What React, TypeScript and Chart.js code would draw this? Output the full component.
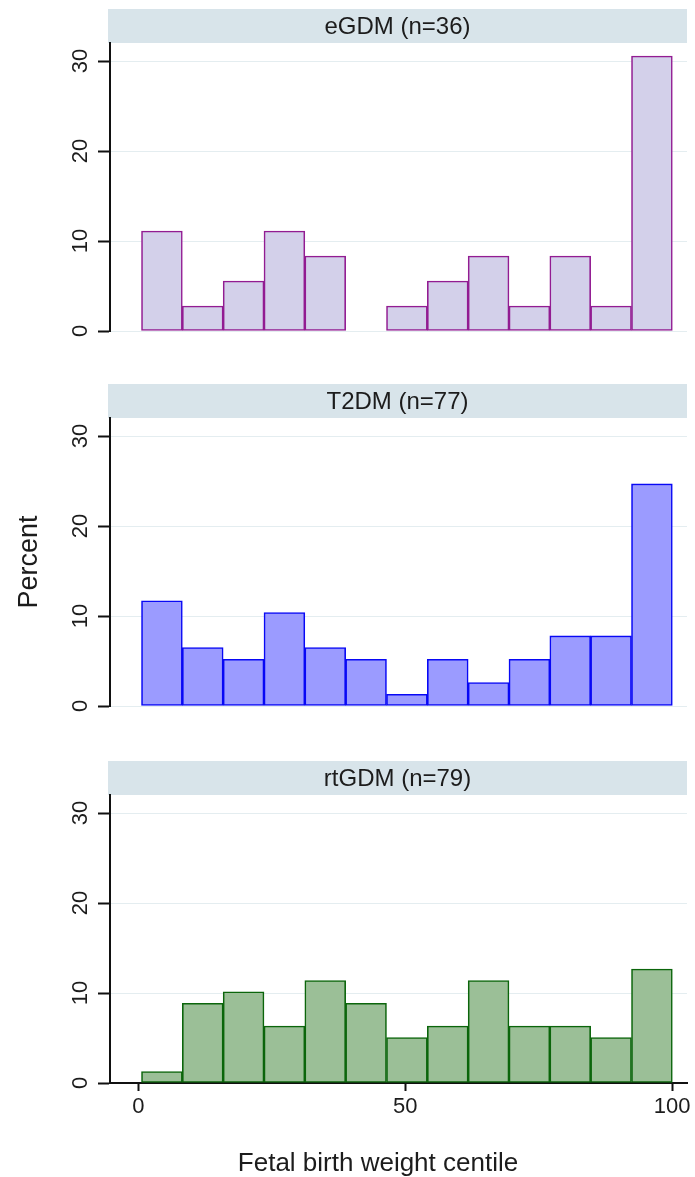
import React, { useEffect, useRef } from 'react';
import { Chart, registerables } from 'chart.js';

Chart.register(...registerables);

const FONT = '"Liberation Sans", Arial, Helvetica, sans-serif';
const TEXT = '#1c1c1c';

// Histogram bins on the centile axis (13 equal-width bins)
const binStart = 0.6;
const binWidth = 7.65;
const binCount = 13;

// Percent of births falling in each bin, per group
const eGDMPercent: (number | null)[] = [11.11, 2.78, 5.56, 11.11, 8.33, null, 2.78, 5.56, 8.33, 2.78, 8.33, 2.78, 30.56];
const t2DMPercent: (number | null)[] = [11.69, 6.49, 5.19, 10.39, 6.49, 5.19, 1.3, 5.19, 2.6, 5.19, 7.79, 7.79, 24.68];
const rtGDMPercent: (number | null)[] = [1.27, 8.86, 10.13, 6.33, 11.39, 8.86, 5.06, 6.33, 11.39, 6.33, 6.33, 5.06, 12.66];

const panelTitles = ['eGDM (n=36)', 'T2DM (n=77)', 'rtGDM (n=79)'];
const yTicks = [0, 10, 20, 30];
const xTicks = [0, 50, 100];
const yTitle = 'Percent';
const xTitle = 'Fetal birth weight centile';

const Y_MAX = 32;
const X_MIN = -5.3;
const X_MAX = 102.8;

const binMids = Array.from({ length: binCount }, (_, i) => binStart + binWidth * (i + 0.5));

type Panel = {
  title: string;
  values: (number | null)[];
  fill: string;
  stroke: string;
  top: number;
  height: number;
  bottomPad: number;
  showYTitle: boolean;
  showX: boolean;
};

const panels: Panel[] = [
  { title: panelTitles[0], values: eGDMPercent, fill: '#d3d0ea', stroke: '#921c92', top: 0, height: 347, bottomPad: 16, showYTitle: false, showX: false },
  { title: panelTitles[1], values: t2DMPercent, fill: '#9b9bff', stroke: '#0808f5', top: 375, height: 347, bottomPad: 16, showYTitle: true, showX: false },
  { title: panelTitles[2], values: rtGDMPercent, fill: '#9bbf97', stroke: '#0b650b', top: 752, height: 425, bottomPad: 50, showYTitle: false, showX: true },
];

// Shaded strip with the group name above each plot region
const panelHeader = {
  id: 'panelHeader',
  beforeDraw(chart: any, _args: any, opts: any) {
    const { ctx, chartArea } = chart;
    const left = chartArea.left - 2;
    const right = chartArea.right;
    const top = chartArea.top - opts.height;
    ctx.save();
    ctx.fillStyle = opts.background;
    ctx.fillRect(left, top, right - left, opts.height);
    ctx.fillStyle = TEXT;
    ctx.font = `${opts.size}px ${FONT}`;
    ctx.textAlign = 'center';
    ctx.textBaseline = 'middle';
    ctx.fillText(opts.text, (left + right) / 2, top + opts.height / 2 + 1);
    ctx.restore();
  },
};

// Vertical (rotated) tick labels on the percent axis
const rotatedYLabels = {
  id: 'rotatedYLabels',
  afterDraw(chart: any, _args: any, opts: any) {
    const { ctx, chartArea } = chart;
    const scale = chart.scales.y;
    ctx.save();
    ctx.fillStyle = TEXT;
    ctx.font = `${opts.size}px ${FONT}`;
    ctx.textAlign = 'center';
    ctx.textBaseline = 'middle';
    scale.ticks.forEach((t: any) => {
      const y = scale.getPixelForValue(t.value);
      ctx.save();
      ctx.translate(chartArea.left - opts.offset, y);
      ctx.rotate(-Math.PI / 2);
      ctx.fillText(String(t.value), 0, 0);
      ctx.restore();
    });
    ctx.restore();
  },
};

function HistPanel({ panel }: { panel: Panel }) {
  const ref = useRef<HTMLCanvasElement>(null);

  useEffect(() => {
    if (!ref.current) return;
    const chart = new Chart(ref.current, {
      type: 'bar',
      data: {
        datasets: [
          {
            data: panel.values.map((v, i) => ({ x: binMids[i], y: v })) as any,
            backgroundColor: panel.fill,
            borderColor: panel.stroke,
            borderWidth: 1.6,
            borderSkipped: false,
            barPercentage: 1,
            categoryPercentage: 1,
          },
        ],
      },
      plugins: [panelHeader, rotatedYLabels],
      options: {
        animation: false,
        responsive: false,
        maintainAspectRatio: false,
        layout: { padding: { top: 43, right: 8, bottom: panel.bottomPad, left: 0 } },
        plugins: {
          legend: { display: false },
          tooltip: { enabled: false },
          title: { display: false },
          panelHeader: { text: panel.title, height: 34, size: 24, background: '#d8e4ea' },
          rotatedYLabels: { offset: 29, size: 22 },
        } as any,
        scales: {
          x: {
            type: 'linear',
            min: X_MIN,
            max: X_MAX,
            offset: false,
            display: panel.showX,
            afterBuildTicks: (s: any) => {
              s.ticks = xTicks.map((v) => ({ value: v }));
            },
            afterFit: (s: any) => {
              s.height = panel.showX ? 44 : 0;
              s.paddingLeft = 0;
              s.paddingRight = 0;
            },
            grid: {
              offset: false,
              drawOnChartArea: false,
              drawTicks: true,
              tickLength: 8,
              tickColor: '#111',
              tickWidth: 2,
            },
            border: { display: true, color: '#111', width: 2 },
            ticks: {
              font: { family: FONT, size: 22 },
              color: TEXT,
              padding: 3,
              maxRotation: 0,
              minRotation: 0,
            },
          },
          y: {
            type: 'linear',
            min: 0,
            max: Y_MAX,
            afterBuildTicks: (s: any) => {
              s.ticks = yTicks.map((v) => ({ value: v }));
            },
            afterFit: (s: any) => {
              s.width = 110;
              s.paddingTop = 0;
              s.paddingBottom = 0;
            },
            grid: {
              color: '#e4edf0',
              lineWidth: 1,
              drawTicks: true,
              tickLength: 12,
              tickColor: '#111',
              tickWidth: 2,
            },
            border: { display: true, color: '#111', width: 2 },
            ticks: { display: false },
            title: {
              display: panel.showYTitle,
              text: yTitle,
              font: { family: FONT, size: 27 },
              color: TEXT,
              padding: { top: 13, bottom: 0 },
            },
          },
        } as any,
      },
    });
    return () => chart.destroy();
  }, [panel]);

  return (
    <canvas
      ref={ref}
      width={695}
      height={panel.height}
      style={{ position: 'absolute', left: 0, top: panel.top, width: 695, height: panel.height, display: 'block' }}
    />
  );
}

export default function App() {
  return (
    <div style={{ position: 'absolute', left: 0, top: 0, width: 695, height: 1177, background: '#fff', overflow: 'hidden' }}>
      {panels.map((p) => (
        <HistPanel key={p.title} panel={p} />
      ))}
      <div
        style={{
          position: 'absolute',
          left: 0,
          top: 1147,
          width: 756,
          textAlign: 'center',
          fontFamily: FONT,
          fontSize: 26,
          lineHeight: '30px',
          color: TEXT,
        }}
      >
        {xTitle}
      </div>
    </div>
  );
}
